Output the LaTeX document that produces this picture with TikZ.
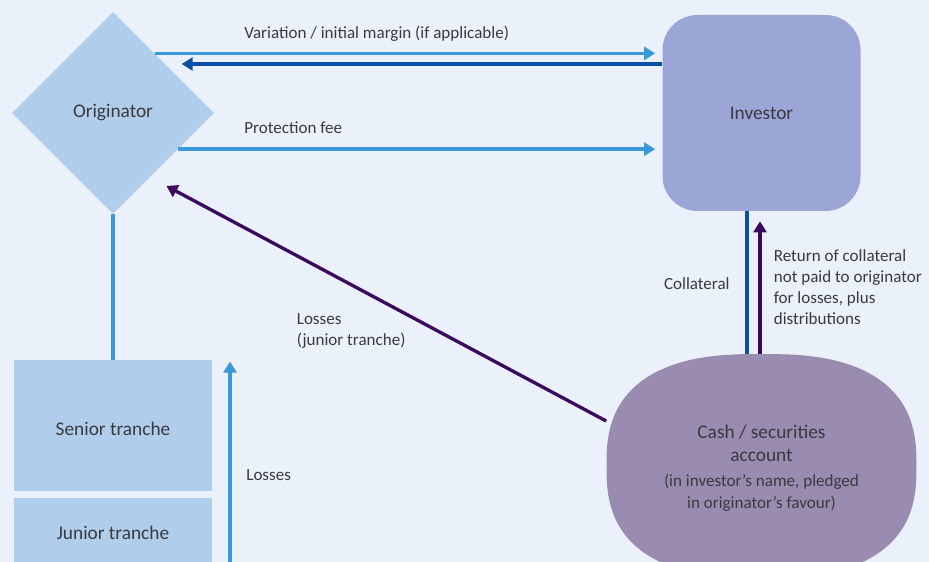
\documentclass[tikz,border=0pt]{standalone}
\usepackage{fontspec}
\setsansfont{Carlito}
\usetikzlibrary{shapes.geometric,arrows.meta}
\definecolor{bgblue}{RGB}{234,241,250}
\definecolor{paleblue}{RGB}{176,206,236}
\definecolor{invblue}{RGB}{155,165,214}
\definecolor{cashpurple}{RGB}{154,139,176}
\definecolor{lineblue}{RGB}{58,154,217}
\definecolor{deepblue}{RGB}{11,79,160}
\definecolor{deeppurple}{RGB}{59,10,92}
\definecolor{textgray}{RGB}{58,58,62}
\newcommand{\notesize}{\fontsize{9.7}{11.3}\selectfont}
\begin{document}
\begin{tikzpicture}[party node/.style={font=\fontsize{11}{13}\selectfont\sffamily\color{textgray}, align=center, inner sep=0pt},tranche node/.style={party node, fill=paleblue, minimum width=3.96cm},flow label/.style={font=\fontsize{9.7}{11.9}\selectfont\sffamily\color{textgray}, align=left, inner sep=0pt},light flow/.style={lineblue, line width=1.9pt},deep flow/.style={deepblue, line width=1.9pt},loss flow/.style={deeppurple, line width=1.9pt},tip/.style={-{Triangle[length=0.22cm,width=0.26cm]}}]%
\path[use as bounding box] (0,0) rectangle (18.58,-11.24);%
\clip (0,0) rectangle (18.58,-11.24);%
\fill[bgblue] (0,0) rectangle (18.58,-11.24);%
  % Parties%
\node[party node, shape=diamond, fill=paleblue, minimum size=4.04cm] (orig) at (2.26,-2.26) {Originator};%
\node[party node, fill=invblue, rounded corners=0.7cm, minimum width=3.96cm, minimum height=3.92cm] (inv) at (15.23,-2.26) {Investor};%
\fill[cashpurple, shift={(15.23,-9.32)}] plot[domain=0.5:360.5, samples=121, variable=\t] ({3.10*sign(cos(\t))*abs(cos(\t))^0.769}, {2.24*sign(sin(\t))*abs(sin(\t))^0.769}) -- cycle;%
\node[party node, minimum width=6.2cm, minimum height=4.58cm] (cash) at (15.23,-9.37) {Cash / securities\\ account\\[1pt] \notesize (in investor’s name, pledged\\ \notesize in originator’s favour)};%
  % Tranches%
\node[tranche node, minimum height=2.62cm] (senior) at (2.26,-8.51) {\raisebox{-0.2cm}[0pt][0pt]{Senior tranche}};%
\node[tranche node, minimum height=1.40cm] (junior) at (2.26,-10.66) {Junior tranche};%
\coordinate (lossbase) at (4.60,-11.24);%
  % Flows%
\draw[light flow, tip, shorten >=0.14cm] (orig.55.7) -- (orig.55.7 -| inv.west);%
\draw[deep flow, tip, shorten >=0.36cm] ([yshift=0.98cm]inv.west) -- ([yshift=0.98cm]inv.west -| orig.45);%
\draw[light flow, tip, shorten >=0.14cm] (orig.-29) -- (orig.-29 -| inv.west);%
\draw[loss flow, tip, shorten >=0.37cm] (cash.163.5) -- (orig.-60.3);%
\draw[deep flow] ([xshift=-0.29cm]cash.north) -- ([xshift=-0.29cm]inv.south);%
\draw[loss flow, tip, shorten >=0.2cm] ([xshift=-0.03cm]cash.north) -- ([xshift=-0.03cm]inv.south);%
\draw[light flow] (orig.south) -- (senior.north);%
\draw[light flow, tip, shorten >=0.04cm] (lossbase) -- (lossbase |- senior.north);%
  % Labels%
\node[flow label, anchor=west] (marginlabel) at (4.88,-0.67) {Variation / initial margin (if applicable)};%
\node[flow label, anchor=west] (feelabel) at (4.88,-2.56) {Protection fee};%
\node[flow label, anchor=west] (juniorlabel) at (5.93,-6.62) {Losses\\ (junior tranche)};%
\node[flow label, anchor=east] (collabel) at (14.60,-5.68) {Collateral};%
\node[flow label, anchor=west] (returnlabel) at (15.47,-5.74) {Return of collateral\\ not paid to originator\\ for losses, plus\\ distributions};%
\node[flow label, anchor=west] (losslabel) at (4.92,-9.50) {Losses};%
\end{tikzpicture}
\end{document}
